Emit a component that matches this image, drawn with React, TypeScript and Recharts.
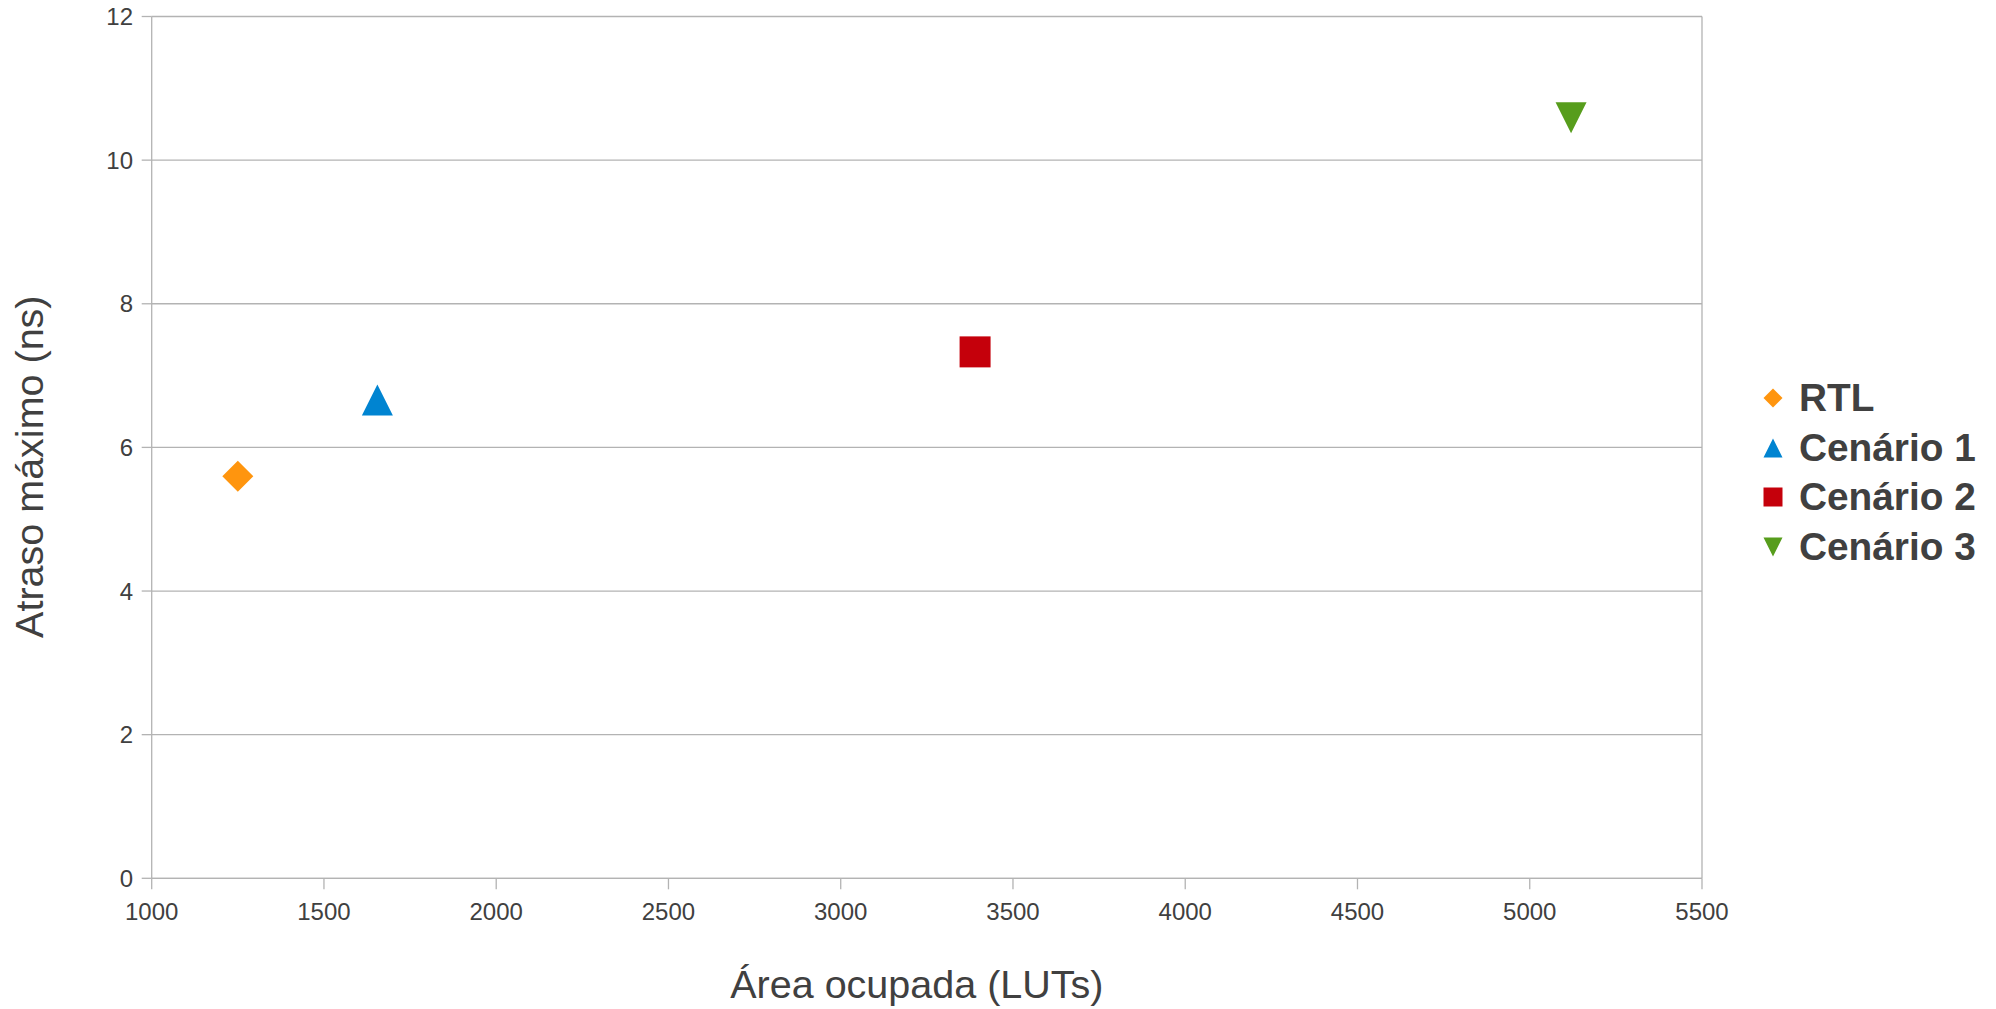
import React from "react";
import { ScatterChart, Scatter, XAxis, YAxis, CartesianGrid, Legend, ReferenceLine } from "recharts";

const seriesNames = ["RTL", "Cenário 1", "Cenário 2", "Cenário 3"];
const areaLUTs = [1250, 1655, 3390, 5120];
const delayNs = [5.6, 6.66, 7.33, 10.59];
const seriesColors = ["#ff950e", "#0084d1", "#c5000b", "#579d1c"];
const seriesShapes = ["diamond", "triangle", "square", "triangleDown"];
const xTicks = [1000, 1500, 2000, 2500, 3000, 3500, 4000, 4500, 5000, 5500];
const yTicks = [0, 2, 4, 6, 8, 10, 12];

const FONT = "'Liberation Sans', Arial, sans-serif";
const TEXT = "#404040";
const GRID = "#b3b3b3";

const W = 1996;
const H = 1009;

function markerPath(kind: string, cx: number, cy: number, r: number) {
  switch (kind) {
    case "diamond":
      return `M${cx},${cy - r}L${cx + r},${cy}L${cx},${cy + r}L${cx - r},${cy}Z`;
    case "triangle":
      return `M${cx},${cy - r}L${cx + r},${cy + r}L${cx - r},${cy + r}Z`;
    case "triangleDown":
      return `M${cx - r},${cy - r}L${cx + r},${cy - r}L${cx},${cy + r}Z`;
    default:
      return `M${cx - r},${cy - r}L${cx + r},${cy - r}L${cx + r},${cy + r}L${cx - r},${cy + r}Z`;
  }
}

const makeShape = (kind: string, color: string) => (props: any) => {
  const { cx, cy } = props;
  if (cx == null || cy == null) return null;
  return <path d={markerPath(kind, cx, cy, 15.5)} fill={color} />;
};

const LegendContent = () => (
  <div style={{ fontFamily: FONT, fontWeight: "bold", fontSize: 38.8, color: TEXT }}>
    {seriesNames.map((name, i) => (
      <div key={name} style={{ height: 49.7, display: "flex", alignItems: "center", whiteSpace: "nowrap" }}>
        <svg width={22} height={22} style={{ marginRight: 15 }}>
          <path d={markerPath(seriesShapes[i], 11, 11, 9.5)} fill={seriesColors[i]} />
        </svg>
        <span>{name}</span>
      </div>
    ))}
  </div>
);

const XLabel = (props: any) => {
  const vb = props.viewBox || {};
  const cx = vb.x + vb.width / 2 - 10;
  return (
    <text x={cx} y={997.7} textAnchor="middle" fontFamily={FONT} fontSize={39.5} fill={TEXT}>
      Área ocupada (LUTs)
    </text>
  );
};

const YLabel = () => {
  const x = 43.3;
  const y = 466.7;
  return (
    <text x={x} y={y} transform={`rotate(-90, ${x}, ${y})`} textAnchor="middle" fontFamily={FONT} fontSize={39.5} fill={TEXT}>
      Atraso máximo (ns)
    </text>
  );
};

export default function App() {
  return (
    <div style={{ width: W, height: H, background: "#fff", overflow: "hidden" }}>
      <style>{"html,body{margin:0;padding:0;overflow:hidden;}"}</style>
      <ScatterChart
        width={W}
        height={H}
        margin={{ top: 16.5, right: 68, bottom: 30.7, left: 51.7 }}
        style={{ fontFamily: FONT }}
      >
        <CartesianGrid horizontal={true} vertical={false} stroke={GRID} strokeWidth={1.3} />
        <XAxis
          type="number"
          dataKey="x"
          domain={[1000, 5500]}
          ticks={xTicks}
          interval={0}
          allowDataOverflow
          height={100}
          stroke={GRID}
          strokeWidth={1.3}
          tickSize={11}
          tickMargin={13.4}
          tick={{ fill: TEXT, fontSize: 24, fontFamily: FONT }}
          label={<XLabel />}
        />
        <YAxis
          type="number"
          dataKey="y"
          domain={[0, 12]}
          ticks={yTicks}
          interval={0}
          allowDataOverflow
          width={100}
          stroke={GRID}
          strokeWidth={1.3}
          tickSize={10}
          tickMargin={8.7}
          tick={{ fill: TEXT, fontSize: 24, fontFamily: FONT }}
          label={<YLabel />}
        />
        <ReferenceLine x={5500} stroke={GRID} strokeWidth={1.3} />
        {seriesNames.map((name, i) => (
          <Scatter
            key={name}
            name={name}
            data={[{ x: areaLUTs[i], y: delayNs[i] }]}
            fill={seriesColors[i]}
            shape={makeShape(seriesShapes[i], seriesColors[i])}
            isAnimationActive={false}
          />
        ))}
        <Legend
          content={<LegendContent />}
          layout="vertical"
          align="right"
          verticalAlign="middle"
          wrapperStyle={{ position: "absolute", left: 1762, top: 373, width: 226, height: 200 }}
        />
      </ScatterChart>
    </div>
  );
}
